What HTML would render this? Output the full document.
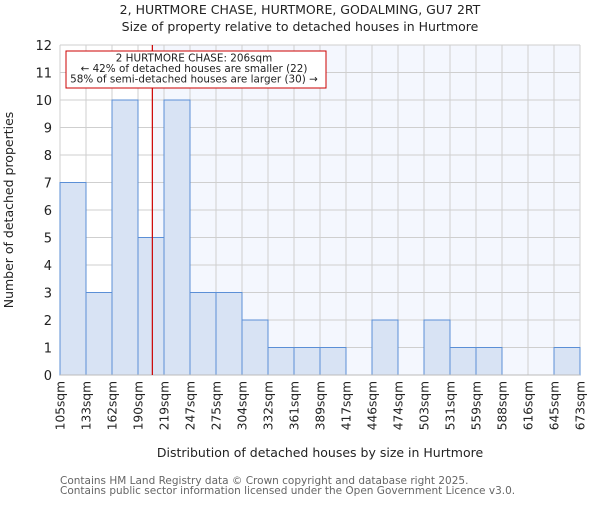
<!DOCTYPE html>
<html><head><meta charset="utf-8"><style>
body{margin:0;background:#fff;}
svg text{font-family:"DejaVu Sans","Liberation Sans",sans-serif;}
</style></head><body>
<svg id="chart" width="600" height="500" xmlns="http://www.w3.org/2000/svg">
<text x="300" y="14" text-anchor="middle" font-size="12.5" fill="#222">2, HURTMORE CHASE, HURTMORE, GODALMING, GU7 2RT</text>
<text x="300" y="31" text-anchor="middle" font-size="12.5" fill="#222">Size of property relative to detached houses in Hurtmore</text>
<g id="plot"></g>
<text x="320" y="457" text-anchor="middle" font-size="12.5" fill="#222">Distribution of detached houses by size in Hurtmore</text>
<text transform="translate(13,210) rotate(-90)" text-anchor="middle" font-size="12.5" fill="#222">Number of detached properties</text>
<text x="60" y="484" font-size="10.5" fill="#666">Contains HM Land Registry data © Crown copyright and database right 2025.</text>
<text x="60" y="494" font-size="10.5" fill="#666">Contains public sector information licensed under the Open Government Licence v3.0.</text>
</svg>
<script>
const binLabels=["105sqm","133sqm","162sqm","190sqm","219sqm","247sqm","275sqm","304sqm","332sqm","361sqm","389sqm","417sqm","446sqm","474sqm","503sqm","531sqm","559sqm","588sqm","616sqm","645sqm","673sqm"];
const binEdges=[105,133,162,190,219,247,275,304,332,361,389,417,446,474,503,531,559,588,616,645,673];
const counts=[7,3,10,5,10,3,3,2,1,1,1,0,2,0,2,1,1,0,0,1];
const yTicks=[0,1,2,3,4,5,6,7,8,9,10,11,12];
const markerValue=206;
const NS="http://www.w3.org/2000/svg";
const L=60,R=580,T=45,B=375,yMax=12;
const nb=counts.length;
function xIdx(i){return L+(R-L)*i/nb;}
function xVal(v){for(let i=0;i<binEdges.length-1;i++){if(v>=binEdges[i]&&v<=binEdges[i+1])return xIdx(i+(v-binEdges[i])/(binEdges[i+1]-binEdges[i]));}return v<binEdges[0]?L:R;}
function y(v){return B-(B-T)*v/yMax;}
const g=document.getElementById('plot');
function mk(t,a){const e=document.createElementNS(NS,t);for(const k in a)e.setAttribute(k,a[k]);g.appendChild(e);return e;}
const mx=xVal(markerValue);
let e=mk('rect',{x:mx,y:T,width:R-mx,height:B-T,fill:"#f4f7fe"});


for(let i=0;i<=nb;i++){e=mk('line',{x1:xIdx(i),x2:xIdx(i),y1:T,y2:B,stroke:"#cfcfcf","stroke-width":1});

}
yTicks.forEach(t=>{e=mk('line',{x1:L,x2:R,y1:y(t),y2:y(t),stroke:"#cfcfcf","stroke-width":1});


const tx=mk('text',{x:L-8,y:y(t)+5,"text-anchor":"end","font-size":"13",fill:"#222"});tx.textContent=t;

});
counts.forEach((c,i)=>{if(c<=0)return;e=mk('rect',{x:xIdx(i),y:y(c),width:xIdx(i+1)-xIdx(i),height:B-y(c),fill:"#d8e3f4",stroke:"#5b8fd6","stroke-width":1});

});
binLabels.forEach((lb,i)=>{const xx=xIdx(i);const tx=mk('text',{transform:`translate(${xx+4.5},${B+6}) rotate(-90)`,"text-anchor":"end","font-size":"12.2",fill:"#222"});tx.textContent=lb;

});
e=mk('line',{x1:L,x2:R,y1:B,y2:B,stroke:"#bbb","stroke-width":1});


e=mk('line',{x1:mx,x2:mx,y1:T,y2:B,stroke:"#cc0000","stroke-width":1.2});


e=mk('rect',{x:66,y:51,width:260,height:37,fill:"#fff",stroke:"#cc0000","stroke-width":1});


const lines=["2 HURTMORE CHASE: 206sqm","← 42% of detached houses are smaller (22)","58% of semi-detached houses are larger (30) →"];
lines.forEach((s,k)=>{const tx=mk('text',{x:194,y:61.5+k*10.5,"text-anchor":"middle","font-size":"10.4",fill:"#222"});tx.textContent=s;

});
</script>
</body></html>
